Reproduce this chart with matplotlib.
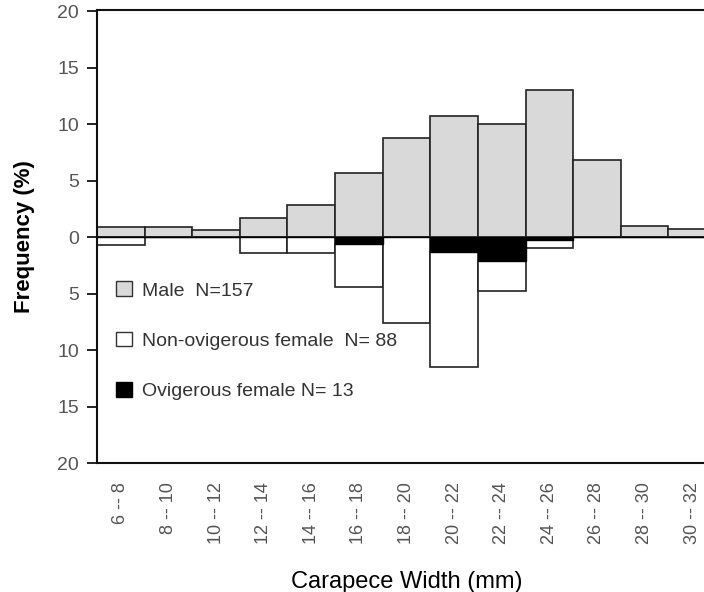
import numpy as np
import matplotlib
matplotlib.use('Agg')
import matplotlib.pyplot as plt
from matplotlib.patches import Patch

plt.rcParams['font.family'] = ['Liberation Sans', 'DejaVu Sans']

# clases de anchura del caparazon (mm)
clases = ['6 -- 8', '8 -- 10', '10 -- 12', '12 -- 14', '14 -- 16', '16 -- 18', '18 -- 20',
          '20 -- 22', '22 -- 24', '24 -- 26', '26 -- 28', '28 -- 30', '30 -- 32']
# frecuencias (%)
machos = [0.9, 0.9, 0.6, 1.7, 2.8, 5.7, 8.8, 10.75, 10.0, 13.05, 6.85, 1.0, 0.7]
ovigeras = [0, 0, 0, 0, 0, 0.6, 0, 1.35, 2.1, 0.3, 0, 0, 0]
no_ovigeras = [0.7, 0, 0, 1.4, 1.4, 3.8, 7.6, 10.15, 2.7, 0.65, 0, 0, 0]

yticks = [20, 15, 10, 5, 0, -5, -10, -15, -20]
ytick_labels = ['20', '15', '10', '5', '0', '5', '10', '15', '20']

x = np.arange(len(clases))
ovi = np.array(ovigeras)
nov = np.array(no_ovigeras)

fig = plt.figure(figsize=(7.04, 5.92), dpi=100)
ax = fig.add_axes([97 / 704, 1 - 463 / 592, 619 / 704, 453 / 592])

gris = '#d9d9d9'
ax.bar(x, machos, width=1.0, color=gris, edgecolor='#222222', linewidth=1.2, zorder=2)
ax.bar(x, -ovi, width=1.0, color='black', edgecolor='black', linewidth=1.0, zorder=3)
ax.bar(x, -nov, bottom=-ovi, width=1.0, color='white', edgecolor='#222222', linewidth=1.2, zorder=2)
ax.axhline(0, color='#888888', linewidth=1.0, zorder=1)

ax.set_xlim(-0.5, 12.5)
ax.set_ylim(-20, 20.1)
ax.set_yticks(yticks)
ax.set_yticklabels(ytick_labels, fontsize=14, color='#555555')
ax.set_xticks(x)
ax.set_xticklabels(clases, rotation=90, fontsize=13, color='#555555')
ax.tick_params(axis='x', length=0, pad=14)
ax.tick_params(axis='y', length=7, width=1.2, direction='out', pad=6)

for s in ['top', 'bottom', 'left']:
    ax.spines[s].set_linewidth(1.5)
    ax.spines[s].set_color('#111111')
ax.spines['right'].set_visible(False)

ax.set_ylabel('Frequency (%)', fontsize=16, fontweight='bold', labelpad=16)
ax.set_xlabel('Carapece Width (mm)', fontsize=17, labelpad=19)

handles = [Patch(facecolor=gris, edgecolor='#333333'),
           Patch(facecolor='white', edgecolor='#333333'),
           Patch(facecolor='black', edgecolor='black')]
etiquetas = ['Male  N=157', 'Non-ovigerous female  N= 88', 'Ovigerous female N= 13']
leg = ax.legend(handles, etiquetas, loc='upper left', bbox_to_anchor=(0.0, 0.444),
                frameon=False, fontsize=14, labelspacing=1.65, handlelength=0.8,
                handleheight=0.8, handletextpad=0.5, borderaxespad=0.6)
for t in leg.get_texts():
    t.set_color('#333333')

fig.savefig('out.png', dpi=100)
